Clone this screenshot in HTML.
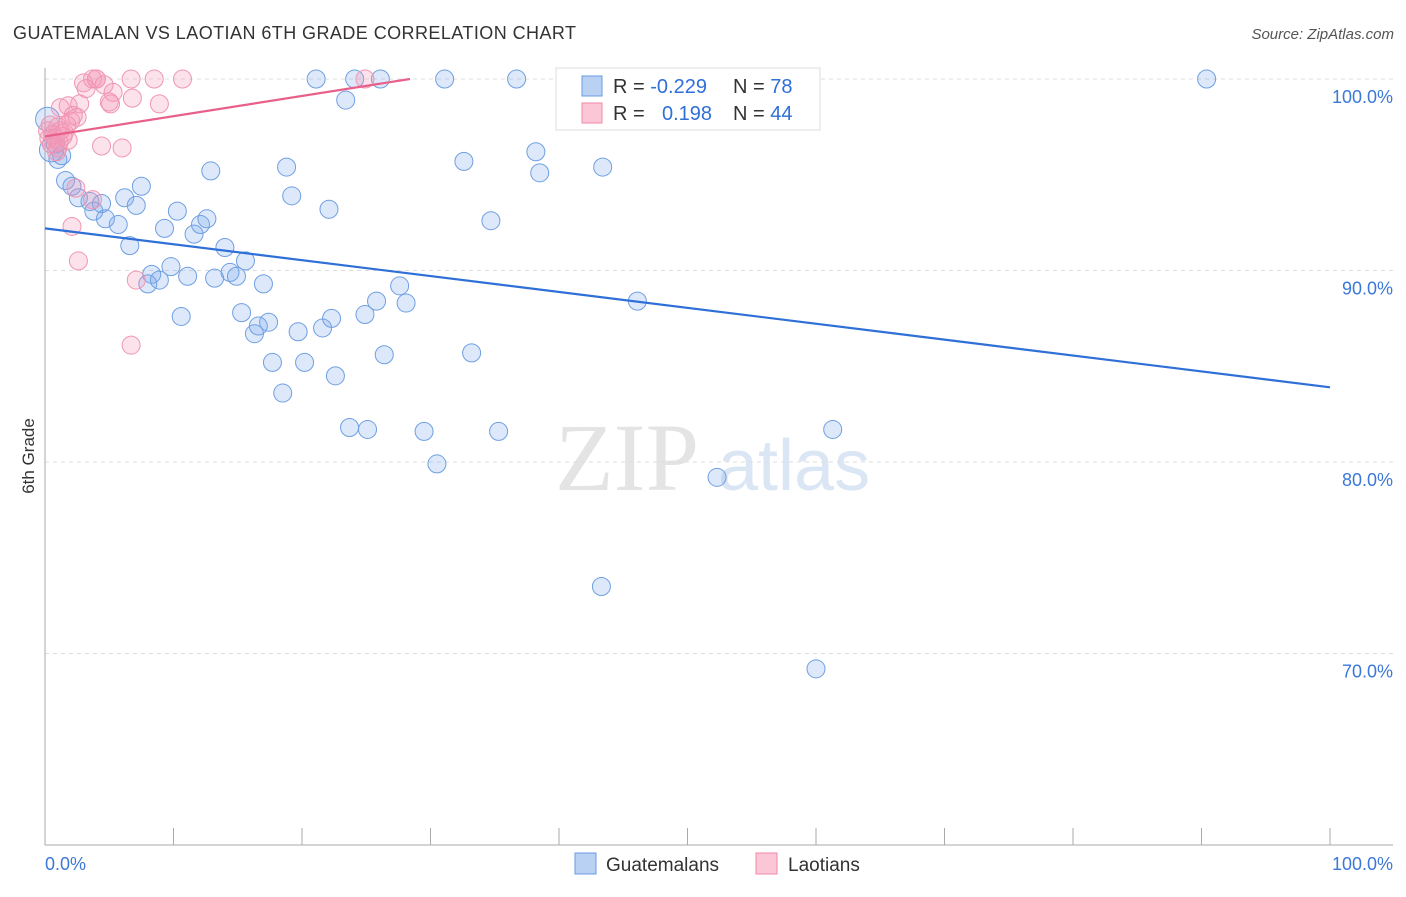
<!DOCTYPE html>
<html><head><meta charset="utf-8"><style>
body{margin:0;background:#fff;font-family:"Liberation Sans",sans-serif}
</style></head><body>
<svg width="1406" height="892" xmlns="http://www.w3.org/2000/svg" font-family="Liberation Sans, sans-serif">
<text x="13" y="39" font-size="18" fill="#333" textLength="563">GUATEMALAN VS LAOTIAN 6TH GRADE CORRELATION CHART</text>
<text x="1394" y="39" font-size="15" fill="#555" text-anchor="end" font-style="italic">Source: ZipAtlas.com</text>
<text transform="translate(34,456) rotate(-90)" font-size="17" fill="#333" text-anchor="middle">6th Grade</text>
<g>
<text x="555" y="490" font-size="96" fill="#e4e4e4" font-family="Liberation Serif, serif">ZIP</text>
<text x="718" y="490" font-size="72" fill="#dbe6f5">atlas</text>
</g>
<g id="grid"></g><g id="axes"></g><g id="pts"></g><g id="lines"></g>
<g>
<rect x="556" y="68" width="264" height="62" fill="#fff" stroke="#ddd"/>
<rect x="582" y="76" width="20" height="20" fill="#b9d1f3" stroke="#6a9be0"/>
<rect x="582" y="103" width="20" height="20" fill="#fbc6d6" stroke="#f08aa8"/>
<text x="613" y="93" font-size="20" fill="#333">R = <tspan fill="#2f6fd8">-0.229</tspan></text>
<text x="733" y="93" font-size="20" fill="#333">N = <tspan fill="#2f6fd8">78</tspan></text>
<text x="613" y="120" font-size="20" fill="#333">R = <tspan fill="#2f6fd8" x="662">0.198</tspan></text>
<text x="733" y="120" font-size="20" fill="#333">N = <tspan fill="#2f6fd8">44</tspan></text>
</g>
<g>
<rect x="575" y="853" width="21" height="21" fill="#b9d1f3" stroke="#6a9be0"/>
<text x="606" y="871" font-size="19" fill="#333">Guatemalans</text>
<rect x="756" y="853" width="21" height="21" fill="#fbc6d6" stroke="#f08aa8"/>
<text x="788" y="871" font-size="19" fill="#333">Laotians</text>
</g>
</svg>
<script>
const blueX=[90.4,21.1,24.1,26.1,31.1,36.7,58.5,23.4,32.6,38.2,38.5,43.4,18.8,12.9,19.2,22.1,34.7,1.0,1.6,2.1,2.6,3.5,3.8,4.4,4.7,5.7,6.2,7.1,7.5,6.6,9.3,10.3,11.6,12.1,12.6,14.0,15.6,8.3,8.0,8.9,9.8,11.1,13.2,14.4,14.9,17.0,10.6,15.3,17.4,16.3,16.6,19.7,21.6,22.3,24.9,25.8,27.6,28.1,46.1,17.7,20.2,22.6,26.4,33.2,18.5,23.7,25.1,29.5,35.3,61.3,30.5,52.3,43.3,60.0,0.5,0.2,0.8,1.3];
const blueY=[100,100,100,100,100,100,100,98.9,95.7,96.2,95.1,95.4,95.4,95.2,93.9,93.2,92.6,95.8,94.7,94.4,93.8,93.6,93.1,93.5,92.7,92.4,93.8,93.4,94.4,91.3,92.2,93.1,91.9,92.4,92.7,91.2,90.5,89.8,89.3,89.5,90.2,89.7,89.6,89.9,89.7,89.3,87.6,87.8,87.3,86.7,87.1,86.8,87.0,87.5,87.7,88.4,89.2,88.3,88.4,85.2,85.2,84.5,85.6,85.7,83.6,81.8,81.7,81.6,81.6,81.7,79.9,79.2,73.5,69.2,96.3,97.9,96.6,96.0];
const pinkX=[4.0,3.7,4.0,6.7,8.5,10.7,24.9,3.0,4.6,5.3,6.8,8.9,5.1,2.7,1.8,1.2,2.2,1.7,1.2,0.8,1.8,0.5,1.0,4.4,6.0,2.4,3.7,2.1,2.6,7.1,6.7,0.2,0.6,1.4,1.0,2.0,0.3,0.9,1.5,3.2,5.0,0.4,1.1,2.5];
const pinkY=[100,100,100,100,100,100,100,99.8,99.7,99.3,99.0,98.7,98.7,98.7,98.6,98.5,98.1,97.6,97.3,96.9,96.8,96.6,96.4,96.5,96.4,94.3,93.7,92.3,90.5,89.5,86.1,97.3,97.1,97.0,97.5,97.8,96.9,96.2,97.2,99.5,98.8,97.6,96.7,98.0];
const blueTrend=[92.2,83.9];
const pinkTrend=[[0,97.0],[28.4,100]];
const yTicks=[100,90,80,70];
const yTickLabels=["100.0%","90.0%","80.0%","70.0%"];
const xs=v=>45+v*12.85, ys=v=>79+(100-v)*19.15;
const NS="http://www.w3.org/2000/svg";
function mk(p,t,a){const e=document.createElementNS(NS,t);for(const k in a)e.setAttribute(k,a[k]);p.appendChild(e);return e;}
const grid=document.getElementById('grid'),axes=document.getElementById('axes'),pts=document.getElementById('pts'),lines=document.getElementById('lines');
yTicks.forEach((t,i)=>{
 const l=mk(grid,'line',{x1:45,x2:1393,y1:ys(t),y2:ys(t),stroke:'#ddd','stroke-dasharray':'4 4'});
 
 
 const tx=mk(grid,'text',{x:1393,y:ys(t)+24,'font-size':18,fill:'#3b78d8','text-anchor':'end'});
 tx.textContent=yTickLabels[i];
 
 
});
mk(axes,'line',{x1:45,x2:45,y1:68,y2:845,stroke:'#aaa'});
mk(axes,'line',{x1:45,x2:1393,y1:845,y2:845,stroke:'#aaa'});
for(let i=0;i<=10;i++){const x=xs(i*10);const t=mk(axes,'line',{x1:x,x2:x,y1:828,y2:845,stroke:'#aaa'});
 
 }
const x0=mk(axes,'text',{x:45,y:870,'font-size':18,fill:'#3b78d8'});x0.textContent='0.0%';


const x1=mk(axes,'text',{x:1393,y:870,'font-size':18,fill:'#3b78d8','text-anchor':'end'});x1.textContent='100.0%';


blueX.forEach((x,i)=>{const c=mk(pts,'circle',{cx:xs(x),cy:ys(blueY[i]),r:i>=74&&i<76?12:9,fill:'rgba(120,168,235,0.25)',stroke:'#6f9fe2','stroke-width':1});
 
 });
pinkX.forEach((x,i)=>{const c=mk(pts,'circle',{cx:xs(x),cy:ys(pinkY[i]),r:9,fill:'rgba(244,150,182,0.28)',stroke:'#f096b2','stroke-width':1});
 
 });
const bl=mk(lines,'line',{x1:xs(0),y1:ys(blueTrend[0]),x2:xs(100),y2:ys(blueTrend[1]),stroke:'#2f6fd8','stroke-width':2.2});


const pl=mk(lines,'line',{x1:xs(pinkTrend[0][0]),y1:ys(pinkTrend[0][1]),x2:xs(pinkTrend[1][0]),y2:ys(pinkTrend[1][1]),stroke:'#e8608a','stroke-width':2.2});


</script>
</body></html>
